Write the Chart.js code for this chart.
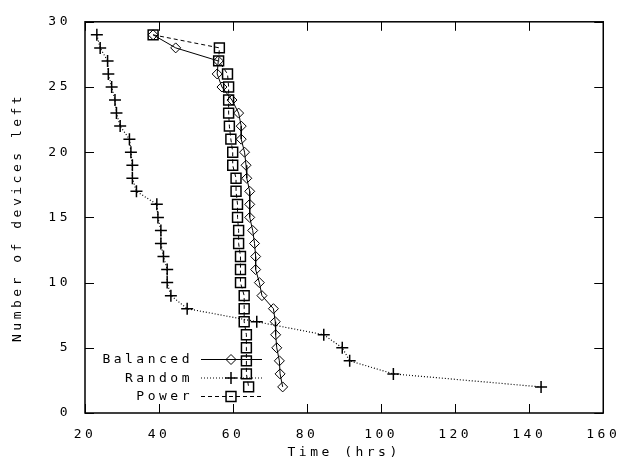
<!DOCTYPE html>
<html>
<head>
    <meta charset="utf-8">
    <title>Devices left over time</title>
    <script src="https://cdn.jsdelivr.net/npm/chart.js@4.4.0/dist/chart.umd.min.js"></script>
    <style>
        body { margin: 0; background: #fff; }
    </style>
</head>
<body>
    <canvas id="devices" width="629" height="468"></canvas>

    <script>
        // data
        const devicesLeft = [29, 28, 27, 26, 25, 24, 23, 22, 21, 20, 19, 18, 17, 16, 15,
                             14, 13, 12, 11, 10, 9, 8, 7, 6, 5, 4, 3, 2];
        const balancedHrs = [38.4, 44.5, 56.0, 55.7, 57.0, 59.7, 61.5, 62.2, 62.2, 63.1, 63.5, 63.7, 64.5, 64.5, 64.5,
                             65.3, 65.8, 66.1, 66.1, 67.1, 67.8, 70.9, 71.4, 71.5, 71.8, 72.5, 72.7, 73.4];
        const randomHrs   = [23.2, 24.1, 26.1, 26.3, 27.2, 28.1, 28.5, 29.5, 32.0, 32.4, 32.8, 32.8, 33.9, 39.4, 39.7,
                             40.5, 40.5, 41.2, 42.2, 42.2, 43.2, 47.6, 66.4, 84.5, 89.5, 91.5, 103.3, 143.2];
        const powerHrs    = [38.4, 56.3, 56.1, 58.5, 58.8, 58.8, 58.8, 59.0, 59.4, 59.9, 59.9, 60.8, 60.8, 61.2, 61.2,
                             61.5, 61.5, 62.0, 62.0, 62.0, 63.0, 63.0, 63.0, 63.6, 63.6, 63.6, 63.6, 64.2];
        const xTicks = { min: 20, max: 160, step: 20 };
        const yTicks = { min: 0, max: 30, step: 5 };

        const FONT = { family: "'DejaVu Sans Mono', 'Liberation Mono', monospace", size: 13 };
        const SPACING = '3.5px';

        function pts(xs) {
            return xs.map((x, i) => ({ x: x, y: devicesLeft[i] }));
        }

        // gnuplot-ish wide text
        const spacing = {
            id: 'spacing',
            beforeDraw(chart) { chart.ctx.letterSpacing = SPACING; }
        };

        // box round the plot with inward ticks on all sides
        const frame = {
            id: 'frame',
            afterDraw(chart) {
                const { ctx, chartArea: a, scales } = chart;
                ctx.save();
                ctx.strokeStyle = '#000';
                ctx.lineWidth = 1.5;
                ctx.strokeRect(a.left, a.top, a.right - a.left, a.bottom - a.top);
                ctx.lineWidth = 1;
                ctx.beginPath();
                scales.x.ticks.forEach(t => {
                    const px = Math.round(scales.x.getPixelForValue(t.value)) + 0.5;
                    ctx.moveTo(px, a.bottom); ctx.lineTo(px, a.bottom - 9);
                    ctx.moveTo(px, a.top); ctx.lineTo(px, a.top + 9);
                });
                scales.y.ticks.forEach(t => {
                    const py = Math.round(scales.y.getPixelForValue(t.value)) + 0.5;
                    ctx.moveTo(a.left, py); ctx.lineTo(a.left + 9, py);
                    ctx.moveTo(a.right, py); ctx.lineTo(a.right - 9, py);
                });
                ctx.stroke();
                ctx.restore();
            }
        };

        // key inside the plot, label first then line sample with marker
        const key = {
            id: 'key',
            afterDraw(chart) {
                const ctx = chart.ctx;
                const rows = [359, 377.5, 396];
                ctx.save();
                ctx.font = FONT.size + 'px ' + FONT.family;
                ctx.letterSpacing = SPACING;
                ctx.textAlign = 'right';
                ctx.textBaseline = 'middle';
                chart.data.datasets.forEach((ds, i) => {
                    const y = rows[i];
                    ctx.fillStyle = '#000';
                    ctx.fillText(ds.label, 193, y + 1);
                    ctx.strokeStyle = ds.borderColor;
                    ctx.lineWidth = ds.borderWidth;
                    ctx.setLineDash(ds.borderDash || []);
                    ctx.beginPath();
                    ctx.moveTo(201, y + 0.5);
                    ctx.lineTo(262, y + 0.5);
                    ctx.stroke();
                    ctx.setLineDash([]);
                    ctx.fillStyle = 'rgba(0,0,0,0)';
                    ctx.strokeStyle = '#000';
                    ctx.lineWidth = ds.pointBorderWidth;
                    Chart.helpers.drawPoint(ctx, {
                        pointStyle: ds.pointStyle,
                        radius: ds.pointRadius,
                        rotation: 0,
                        borderWidth: ds.pointBorderWidth
                    }, 231, y + 0.5);
                });
                ctx.restore();
            }
        };

        new Chart(document.getElementById('devices'), {
            type: 'line',
            data: {
                datasets: [{
                    label: 'Balanced',
                    data: pts(balancedHrs),
                    borderColor: '#000',
                    borderWidth: 1,
                    pointStyle: 'rectRot',
                    pointRadius: 5,
                    pointBorderWidth: 1,
                    pointBorderColor: '#000',
                    pointBackgroundColor: 'rgba(0,0,0,0)',
                    fill: false
                }, {
                    label: 'Random',
                    data: pts(randomHrs),
                    borderColor: '#000',
                    borderWidth: 1.2,
                    borderDash: [1, 2],
                    pointStyle: 'cross',
                    pointRadius: 6,
                    pointBorderWidth: 1.5,
                    pointBorderColor: '#000',
                    fill: false
                }, {
                    label: 'Power',
                    data: pts(powerHrs),
                    borderColor: '#000',
                    borderWidth: 1,
                    borderDash: [4, 3],
                    pointStyle: 'rect',
                    pointRadius: 7,
                    pointBorderWidth: 1.5,
                    pointBorderColor: '#000',
                    pointBackgroundColor: 'rgba(0,0,0,0)',
                    fill: false
                }]
            },
            options: {
                responsive: false,
                animation: false,
                layout: { padding: { left: 0, right: 22, top: 12, bottom: 0 } },
                plugins: {
                    legend: { display: false },
                    tooltip: { enabled: false }
                },
                scales: {
                    x: {
                        type: 'linear',
                        min: xTicks.min,
                        max: xTicks.max,
                        ticks: { stepSize: xTicks.step, color: '#000', font: FONT, padding: 14, maxRotation: 0 },
                        grid: { display: false, drawTicks: false },
                        border: { display: false },
                        title: { display: true, text: 'Time (hrs)', color: '#000', font: FONT, padding: { top: 0, bottom: 8 } },
                        afterFit(scale) { scale.height = 55; }
                    },
                    y: {
                        min: yTicks.min,
                        max: yTicks.max,
                        ticks: { stepSize: yTicks.step, color: '#000', font: FONT, padding: 14 },
                        grid: { display: false, drawTicks: false },
                        border: { display: false },
                        title: { display: true, text: 'Number of devices left', color: '#000', font: FONT, padding: { top: 10, bottom: 0 } },
                        afterFit(scale) { scale.width = 85; }
                    }
                }
            },
            plugins: [spacing, frame, key]
        });
    </script>
</body>
</html>
